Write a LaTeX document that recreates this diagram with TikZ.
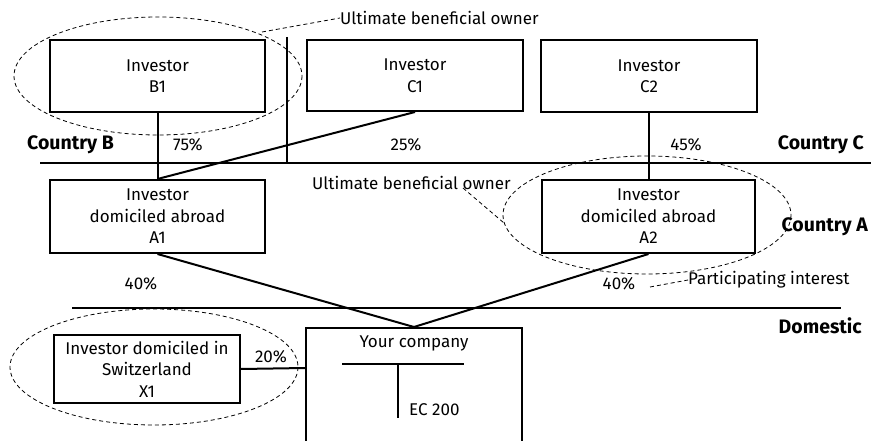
\documentclass[tikz,border=0pt]{standalone}
\usepackage{fontspec}
\setmainfont{Fira Sans}
\newcommand\fsz{\fontsize{17pt}{21.5pt}\selectfont}
\newcommand\bsz{\fontsize{19.5pt}{23pt}\selectfont\bfseries}
\begin{document}
\begin{tikzpicture}[x=1pt,y=-1pt,
  font=\fsz,
  box/.style={draw,line width=2pt,align=center,inner sep=0pt,text depth=0pt},
  lbl/.style={inner sep=0pt},
  blbl/.style={inner sep=0pt,font=\bsz},
  conn/.style={line width=2pt},
  sep/.style={line width=1.6pt},
  dashln/.style={line width=0.8pt,dash pattern=on 4pt off 3pt},
]
\useasboundingbox (0,0) rectangle (871,441);
% boxes
\node[box,minimum width=215,minimum height=72] (B1) at (157.5,76) {Investor\\B1};
\node[box,minimum width=216,minimum height=71] (C1) at (415,75.5) {Investor\\C1};
\node[box,minimum width=216,minimum height=72] (C2) at (649,76) {Investor\\C2};
\node[box,minimum width=215,minimum height=73] (A1) at (157.5,216.5) {Investor\\domiciled abroad\\A1};
\node[box,minimum width=213,minimum height=73] (A2) at (648.5,216.5) {Investor\\domiciled abroad\\A2};
\node[box,minimum width=186,minimum height=68] (X1) at (147,369) {Investor domiciled in\\Switzerland\\X1};
\node[box,minimum width=216,minimum height=140,anchor=north] (Co) at (414,327) {};
\node[lbl] (yc) at (414,343) {Your company};
\node[lbl,anchor=west] (ec) at (409,410) {EC 200};
% T account
\coordinate (tl) at (342,364);
\coordinate (tr) at (464,364);
\coordinate (tt) at (398,364);
\coordinate (tb) at (398,418);
\draw[sep] (tl) -- (tr);
\draw[sep] (tt) -- (tb);
% separators
\coordinate (h1l) at (40,163);
\coordinate (h1r) at (871,163);
\coordinate (h2l) at (72,308);
\coordinate (h2r) at (841,308);
\coordinate (vt) at (287,37);
\coordinate (vb) at (287,163);
\draw[sep] (h1l) -- (h1r);
\draw[sep] (h2l) -- (h2r);
\draw[sep] (vt) -- (vb);
% connectors
\draw[conn] (B1.south) -- (A1.north);
\draw[conn] (C1.south) -- (A1.north);
\draw[conn] (C2.south) -- (C2.south |- A2.north);
\draw[conn] (A1.south) -- (Co.north);
\draw[conn] (A2.south) -- (Co.north);
\coordinate (xe) at (305,368);
\draw[conn] (X1.east) -- (xe);
% ellipses
\draw[dashln] (158,76) ellipse [x radius=144,y radius=59];
\draw[dashln] (647,215) ellipse [x radius=144,y radius=59];
\draw[dashln] (154,367) ellipse [x radius=144,y radius=58];
% labels
\node[lbl,anchor=west] (ubo1) at (340,18) {Ultimate beneficial owner};
\node[lbl,anchor=west] (ubo2) at (312,183) {Ultimate beneficial owner};
\node[lbl,anchor=west] (pi) at (688,280) {Participating interest};
\coordinate (d1a) at (262,32);
\coordinate (d2s) at (463,188);
\coordinate (d2a) at (504,223);
\coordinate (d3a) at (650,287);
\draw[dashln] (d1a) -- (ubo1.west);
\draw[dashln] (d2s) -- (d2a);
\draw[dashln] (d3a) -- (pi.west);
\node[blbl,anchor=west] (cb) at (27,145) {Country B};
\node[blbl,anchor=east] (cc) at (864,145) {Country C};
\node[blbl,anchor=east] (ca) at (868,227) {Country A};
\node[blbl,anchor=east] (dom) at (862,326) {Domestic};
\node[lbl] (p75) at (188,145) {75\%};
\node[lbl] (p25) at (406,145) {25\%};
\node[lbl] (p45) at (686,145) {45\%};
\node[lbl] (p40a) at (141,284) {40\%};
\node[lbl] (p40b) at (619,284) {40\%};
\node[lbl] (p20) at (271,357) {20\%};
\end{tikzpicture}
\end{document}
